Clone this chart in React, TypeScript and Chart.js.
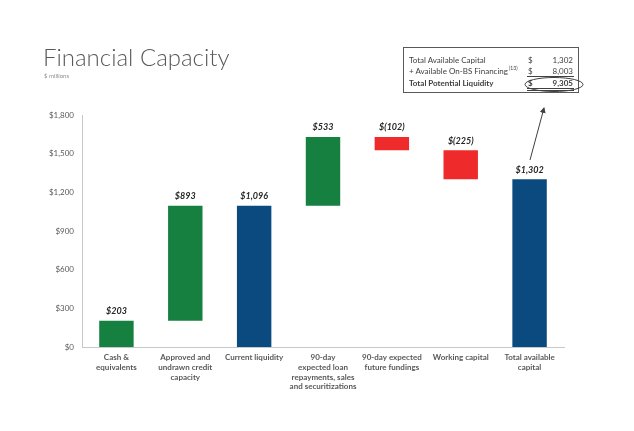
import React, { useEffect, useRef } from "react";
import { Chart, registerables } from "chart.js";

Chart.register(...registerables);

const categories: string[][] = [
  ["Cash &", "equivalents"],
  ["Approved and", "undrawn credit", "capacity"],
  ["Current liquidity"],
  ["90-day", "expected loan", "repayments, sales", "and securitizations"],
  ["90-day expected", "future fundings"],
  ["Working capital"],
  ["Total available", "capital"],
];
const barStart = [0, 203, 0, 1096, 1527, 1302, 0];
const barEnd = [203, 1096, 1096, 1629, 1629, 1527, 1302];
const valueLabels = ["$203", "$893", "$1,096", "$533", "$(102)", "$(225)", "$1,302"];
const barKinds = ["up", "up", "total", "up", "down", "down", "total"];
const yTicks = [0, 300, 600, 900, 1200, 1500, 1800];

const kindColor: Record<string, string> = {
  up: "#158040",
  down: "#ee2a2a",
  total: "#0b4a7e",
};

const FONT = "Lato, 'Noto Sans', sans-serif";

const valueLabelPlugin = {
  id: "valueLabels",
  afterDatasetsDraw(chart: any) {
    const ctx = chart.ctx;
    const meta = chart.getDatasetMeta(0);
    ctx.save();
    ctx.font = `italic bold 9px ${FONT}`;
    ctx.fillStyle = "#262626";
    ctx.textAlign = "center";
    ctx.textBaseline = "bottom";
    meta.data.forEach((el: any, i: number) => {
      const top = Math.min(el.y, el.base);
      ctx.fillText(valueLabels[i], el.x, top - 5);
    });
    ctx.restore();
  },
};

export default function App() {
  const ref = useRef<HTMLCanvasElement>(null);
  useEffect(() => {
    if (!ref.current) return;
    const chart = new Chart(ref.current, {
      type: "bar",
      data: {
        labels: categories,
        datasets: [
          {
            data: barStart.map((s, i) => [s, barEnd[i]]) as any,
            backgroundColor: barKinds.map((k) => kindColor[k]),
            borderWidth: 0,
            barPercentage: 0.5,
            categoryPercentage: 1,
          },
        ],
      },
      options: {
        responsive: false,
        animation: false,
        layout: { padding: { top: 115, right: 70, left: 0, bottom: 0 } },
        plugins: { legend: { display: false }, tooltip: { enabled: false } },
        scales: {
          x: {
            grid: { display: false, drawTicks: false },
            border: { color: "#c8c8c8", width: 1 },
            ticks: {
              color: "#595959",
              font: { family: FONT, size: 8, weight: "bold" },
              padding: 6,
              maxRotation: 0,
              autoSkip: false,
            },
            afterFit(scale: any) {
              scale.height = 84;
            },
          },
          y: {
            min: 0,
            max: 1800,
            afterBuildTicks(scale: any) {
              scale.ticks = yTicks.map((v) => ({ value: v }));
            },
            grid: { display: false, drawTicks: false },
            border: { color: "#c8c8c8", width: 1 },
            ticks: {
              color: "#595959",
              font: { family: FONT, size: 8 },
              padding: 8,
              callback: (v: any) => "$" + Number(v).toLocaleString("en-US"),
            },
            afterFit(scale: any) {
              scale.width = 82;
            },
          },
        },
      },
      plugins: [valueLabelPlugin],
    });
    return () => chart.destroy();
  }, []);

  const tableText: React.CSSProperties = {
    position: "absolute",
    fontFamily: FONT,
    fontSize: 8,
    color: "#404040",
    whiteSpace: "nowrap",
    lineHeight: "10px",
  };

  return (
    <div
      style={{
        position: "fixed",
        left: 0,
        top: 0,
        width: 634,
        height: 431,
        background: "#fff",
        overflow: "hidden",
      }}
    >
      <canvas ref={ref} width={634} height={431} style={{ position: "absolute", left: 0, top: 0 }} />
      <div
        style={{
          position: "absolute",
          left: 43,
          top: 42,
          fontFamily: FONT,
          fontWeight: 300,
          fontSize: 24,
          color: "#595959",
          whiteSpace: "nowrap",
          lineHeight: "30px",
        }}
      >
        Financial Capacity
      </div>
      <div
        style={{
          position: "absolute",
          left: 44,
          top: 72,
          fontFamily: FONT,
          fontSize: 6,
          color: "#8c8c8c",
          whiteSpace: "nowrap",
        }}
      >
        $ millions
      </div>
      {/* table */}
      <div
        style={{
          position: "absolute",
          left: 403,
          top: 47,
          width: 176,
          height: 46,
          border: "1px solid #595959",
          boxSizing: "border-box",
        }}
      />
      <div style={{ ...tableText, left: 409, top: 55 }}>Total Available Capital</div>
      <div style={{ ...tableText, left: 528, top: 55 }}>$</div>
      <div style={{ ...tableText, left: 548, top: 55, width: 25, textAlign: "right" }}>1,302</div>
      <div style={{ ...tableText, left: 409, top: 66 }}>+ Available On-BS Financing</div>
      <div style={{ ...tableText, left: 509, top: 63, fontSize: 5 }}>(13)</div>
      <div style={{ ...tableText, left: 528, top: 66 }}>$</div>
      <div style={{ ...tableText, left: 548, top: 66, width: 25, textAlign: "right" }}>8,003</div>
      <div style={{ position: "absolute", left: 527, top: 76, width: 47, height: 0, borderTop: "1px solid #404040" }} />
      <div style={{ ...tableText, left: 409, top: 78, fontWeight: "bold" }}>Total Potential Liquidity</div>
      <div style={{ ...tableText, left: 528, top: 78, fontWeight: "bold" }}>$</div>
      <div style={{ ...tableText, left: 548, top: 78, width: 25, textAlign: "right", fontWeight: "bold" }}>9,305</div>
      <div style={{ position: "absolute", left: 527, top: 88, width: 47, height: 1, borderTop: "1px solid #404040", borderBottom: "1px solid #404040" }} />
      <svg width={634} height={431} style={{ position: "absolute", left: 0, top: 0 }}>
        <ellipse cx={554} cy={84.5} rx={29} ry={7} fill="none" stroke="#404040" strokeWidth={1} />
        <defs>
          <marker id="ah" markerWidth="6" markerHeight="6" refX="5" refY="3" orient="auto">
            <path d="M0,0 L6,3 L0,6 z" fill="#404040" />
          </marker>
        </defs>
        <line x1={530} y1={160} x2={544} y2={108} stroke="#404040" strokeWidth={1} markerEnd="url(#ah)" />
      </svg>
    </div>
  );
}
